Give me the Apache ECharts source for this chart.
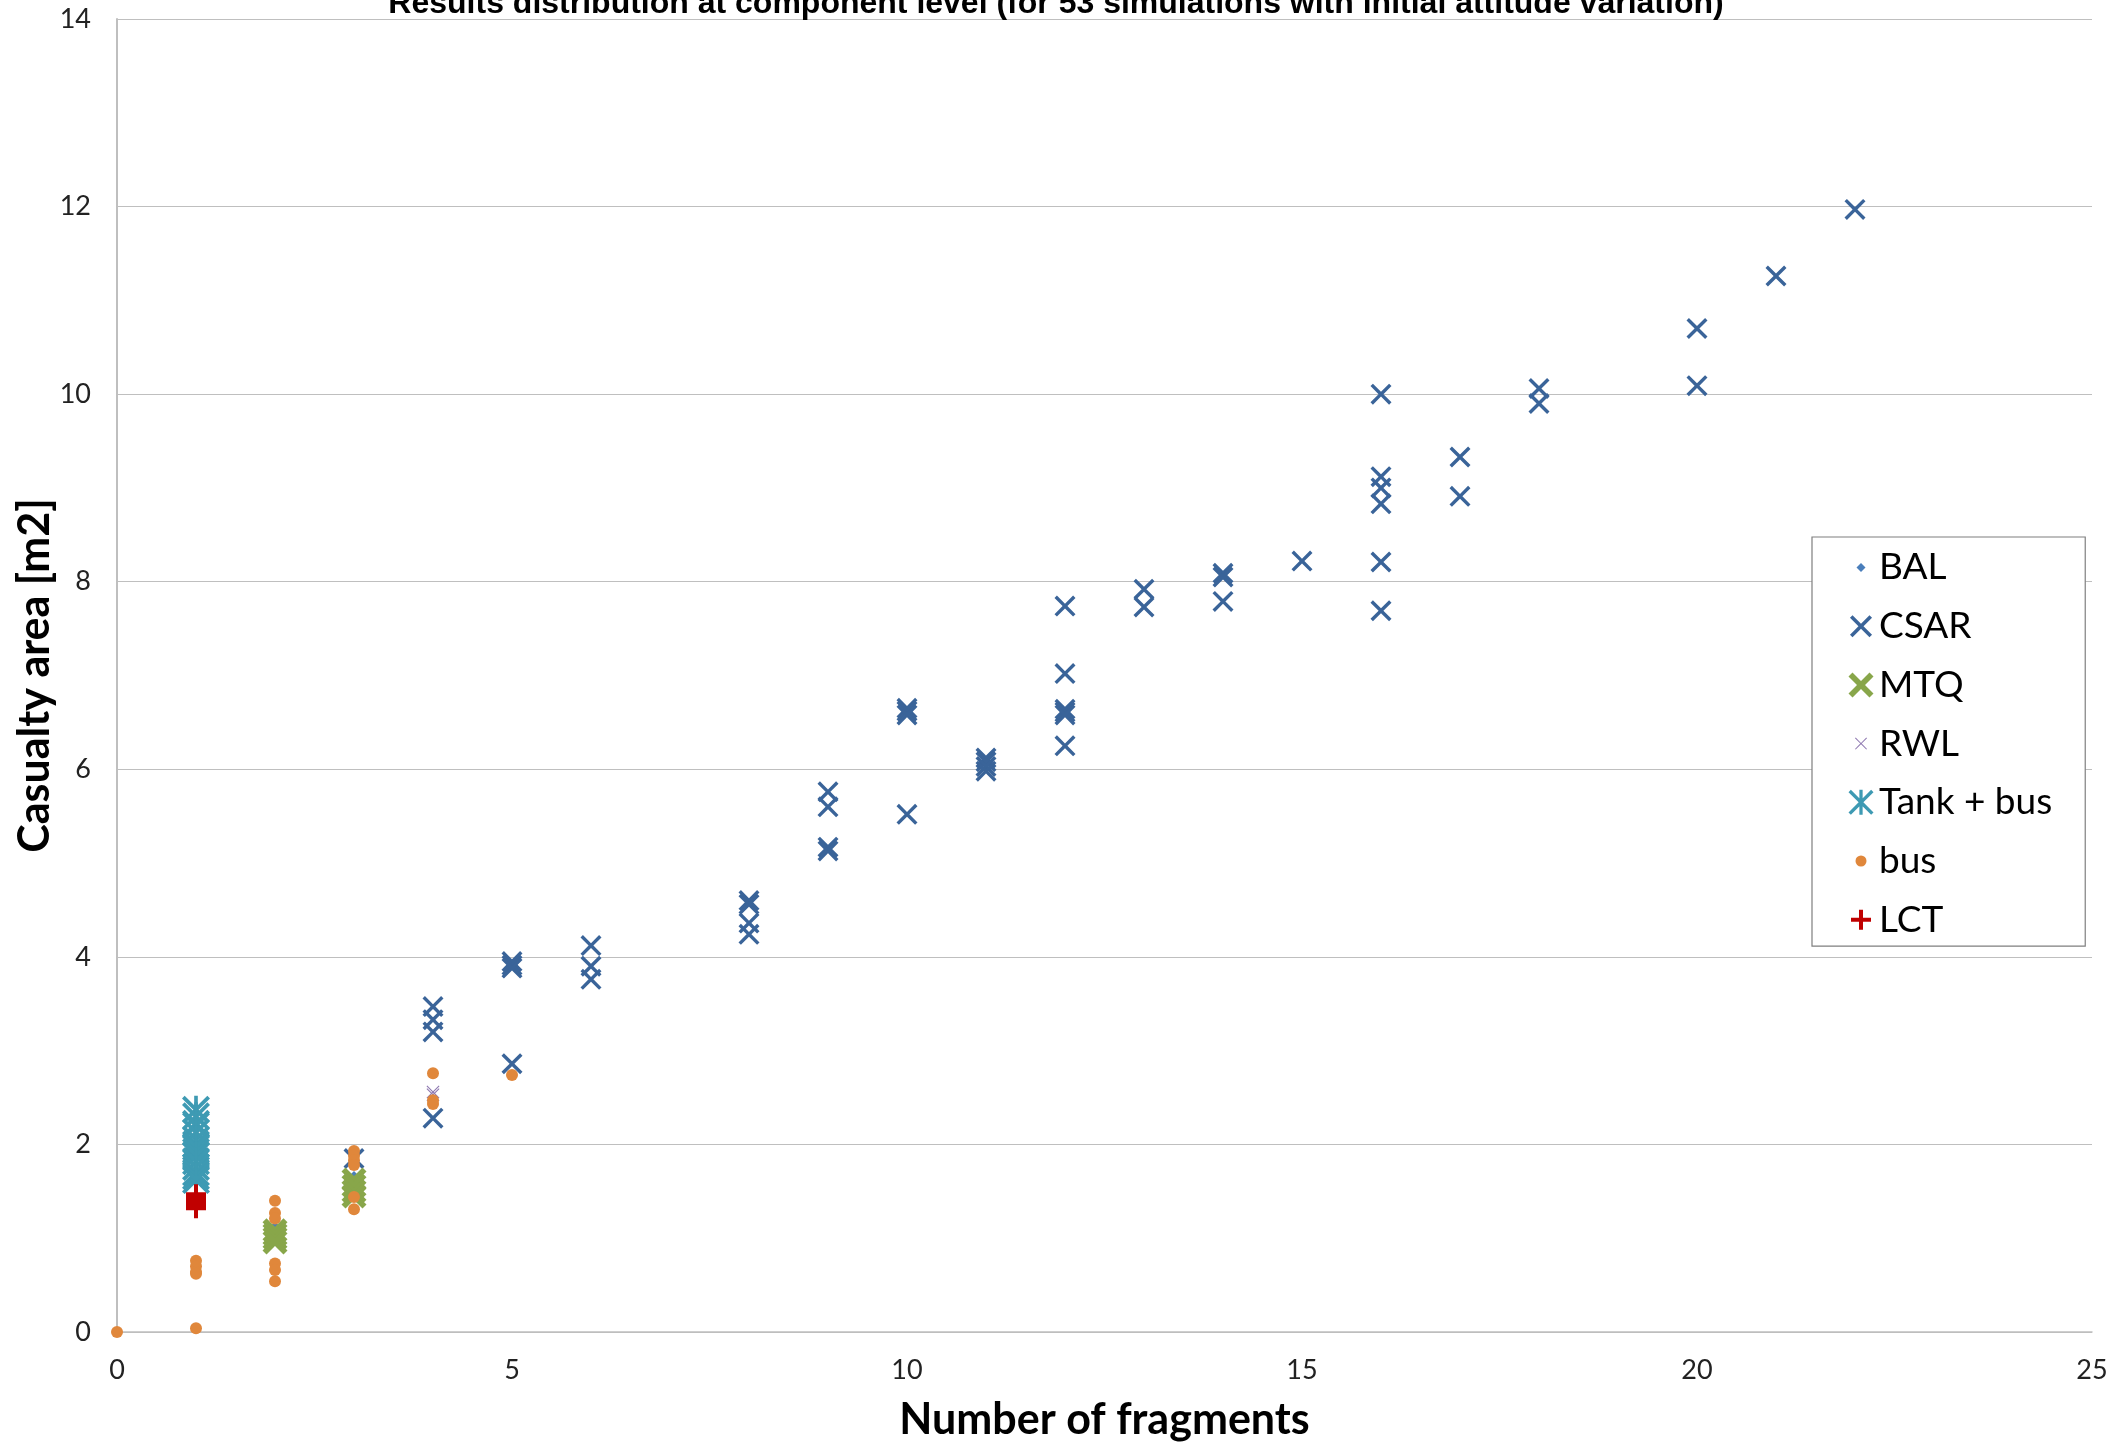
<!DOCTYPE html>
<html><head><meta charset="utf-8">
<script src="https://cdn.jsdelivr.net/npm/echarts@6/dist/echarts.min.js"></script>
<style>html,body{margin:0;padding:0;background:#fff}#c{width:2112px;height:1444px}</style>
</head><body><div id="c"></div>
<script>
// ---- data ----
const TITLE = 'Results distribution at component level (for 53 simulations with initial attitude variation)';
const X_NAME = 'Number of fragments';
const Y_NAME = 'Casualty area [m2]';
const SERIES_NAMES = ['BAL', 'CSAR', 'MTQ', 'RWL', 'Tank + bus', 'bus', 'LCT'];
const BAL = [[1, 0.67], [2, 1.13], [3, 1.67]];
const CSAR = [
  [3, 1.85],
  [4, 3.47], [4, 3.33], [4, 3.20], [4, 2.28],
  [5, 3.95], [5, 3.91], [5, 3.88], [5, 2.86],
  [6, 4.12], [6, 3.90], [6, 3.76],
  [8, 4.60], [8, 4.56], [8, 4.36], [8, 4.24],
  [9, 5.76], [9, 5.60], [9, 5.17], [9, 5.13],
  [10, 6.65], [10, 6.62], [10, 6.58], [10, 5.52],
  [11, 6.12], [11, 6.08], [11, 6.03], [11, 5.98],
  [12, 7.74], [12, 7.02], [12, 6.64], [12, 6.61], [12, 6.58], [12, 6.25],
  [13, 7.92], [13, 7.73],
  [14, 8.09], [14, 8.05], [14, 7.79],
  [15, 8.22],
  [16, 10.00], [16, 9.12], [16, 9.00], [16, 8.83], [16, 8.21], [16, 7.69],
  [17, 9.33], [17, 8.91],
  [18, 10.06], [18, 9.90],
  [20, 10.70], [20, 10.09],
  [21, 11.26],
  [22, 11.97]
];
const MTQ = [[2, 1.08], [2, 1.04], [2, 1.00], [2, 0.96], [3, 1.62], [3, 1.56], [3, 1.50], [3, 1.45]];
const RWL = [[4, 2.56], [4, 2.53]];
const TANK_BUS = [[1, 2.37], [1, 2.30], [1, 2.22], [1, 2.20], [1, 2.13], [1, 2.05], [1, 2.00], [1, 1.97],
  [1, 1.92], [1, 1.88], [1, 1.82], [1, 1.76], [1, 1.70], [1, 1.66], [1, 1.62]];
const BUS = [[0, 0.00],
  [1, 0.04], [1, 0.76], [1, 0.70], [1, 0.64], [1, 0.62],
  [2, 1.40], [2, 1.27], [2, 1.21], [2, 0.73], [2, 0.66], [2, 0.54],
  [3, 1.93], [3, 1.88], [3, 1.83], [3, 1.78], [3, 1.44], [3, 1.31],
  [4, 2.76], [4, 2.47], [4, 2.43],
  [5, 2.74]];
const LCT = [[1, 1.47], [1, 1.45], [1, 1.43], [1, 1.41], [1, 1.39], [1, 1.37], [1, 1.35], [1, 1.33], [1, 1.32]];
const X_TICKS = {min: 0, max: 25, interval: 5};
const Y_TICKS = {min: 0, max: 14, interval: 2};

// ---- symbol shapes ----
function xShape(a) {
  return `M0 ${a}L${a} 0L50 ${50 - a}L${100 - a} 0L100 ${a}L${50 + a} 50L100 ${100 - a}L${100 - a} 100L50 ${50 + a}L${a} 100L0 ${100 - a}L${50 - a} 50Z`;
}
function plusShape(h) {
  return `M${50 - h} 0L${50 + h} 0L${50 + h} ${50 - h}L100 ${50 - h}L100 ${50 + h}L${50 + h} ${50 + h}L${50 + h} 100L${50 - h} 100L${50 - h} ${50 + h}L0 ${50 + h}L0 ${50 - h}L${50 - h} ${50 - h}Z`;
}
function starShape(a, h) {
  return xShape(a) + ` M${50 - h} 0L${50 + h} 0L${50 + h} 100L${50 - h} 100Z`;
}
const circleShape = 'M50 0A50 50 0 1 1 50 100A50 50 0 1 1 50 0Z';
const diamondShape = 'M50 0L100 50L50 100L0 50Z';
function pad(shape, m) { return 'path://M' + (-m) + ' ' + (-m) + 'M' + (100 + m) + ' ' + (100 + m) + shape; }

const SHAPES = {
  'BAL': diamondShape,
  'CSAR': xShape(11.5),
  'MTQ': xShape(16),
  'RWL': xShape(6),
  'Tank + bus': starShape(9.5, 6.5),
  'bus': circleShape,
  'LCT': plusShape(10)
};
const COLORS = {
  'BAL': '#4a7ebb', 'CSAR': '#3a6499', 'MTQ': '#88a64a', 'RWL': '#8e78b0',
  'Tank + bus': '#3e9ab3', 'bus': '#e0873b', 'LCT': '#c00000'
};
const SIZES = {'BAL': 9, 'CSAR': 21, 'MTQ': 25, 'RWL': 13, 'Tank + bus': 28, 'bus': 12, 'LCT': 20};
const LEGEND_MARGIN = {'BAL': 94, 'CSAR': 9, 'MTQ': 2, 'RWL': 58, 'Tank + bus': 2, 'bus': 68, 'LCT': 15};
const DATA = {'BAL': BAL, 'CSAR': CSAR, 'MTQ': MTQ, 'RWL': RWL, 'Tank + bus': TANK_BUS, 'bus': BUS, 'LCT': LCT};

const chart = echarts.init(document.getElementById('c'), null, {renderer: 'canvas'});
const gridColor = '#bfbfbf';
chart.setOption({
  animation: false,
  backgroundColor: '#ffffff',
  title: {
    text: TITLE, left: 'center', top: -17,
    textStyle: {fontFamily: 'Liberation Sans', fontWeight: 'bold', fontSize: 32, color: '#000'}
  },
  grid: {left: 117, right: 20, top: 19, bottom: 112, containLabel: false, outerBoundsMode: 'none'},
  xAxis: {
    type: 'value', min: X_TICKS.min, max: X_TICKS.max, interval: X_TICKS.interval,
    name: X_NAME, nameLocation: 'middle', nameGap: 67, nameMoveOverlap: false,
    nameTextStyle: {fontFamily: 'Lato', fontWeight: 'bold', fontSize: 43, color: '#000'},
    axisLine: {show: true, lineStyle: {color: gridColor, width: 1.5}},
    axisTick: {show: false},
    splitLine: {show: false},
    axisLabel: {fontFamily: 'Lato', fontSize: 27, color: '#222', margin: 25}
  },
  yAxis: {
    type: 'value', min: Y_TICKS.min, max: Y_TICKS.max, interval: Y_TICKS.interval,
    name: Y_NAME, nameLocation: 'middle', nameGap: 60, nameMoveOverlap: false,
    nameTextStyle: {fontFamily: 'Lato', fontWeight: 'bold', fontSize: 43, color: '#000'},
    axisLine: {show: true, lineStyle: {color: gridColor, width: 2}},
    axisTick: {show: false},
    splitLine: {show: true, lineStyle: {color: gridColor, width: 1.2}},
    axisLabel: {fontFamily: 'Lato', fontSize: 27, color: '#222', margin: 26}
  },
  legend: {
    orient: 'vertical', left: 1812, top: 537,
    padding: [12, 33, 8, 36],
    itemWidth: 26, itemHeight: 26, itemGap: 21.7,
    backgroundColor: '#fff', borderColor: '#7f7f7f', borderWidth: 1.2,
    textStyle: {fontFamily: 'Lato', fontSize: 37, lineHeight: 35, color: '#000'},
    data: SERIES_NAMES.map(n => ({name: n, icon: pad(SHAPES[n], LEGEND_MARGIN[n])}))
  },
  series: SERIES_NAMES.map(n => ({
    name: n, type: 'scatter', data: DATA[n],
    symbol: 'path://' + SHAPES[n], symbolSize: SIZES[n],
    itemStyle: {color: COLORS[n], opacity: 1},
    emphasis: {disabled: true}
  }))
});
</script></body></html>
